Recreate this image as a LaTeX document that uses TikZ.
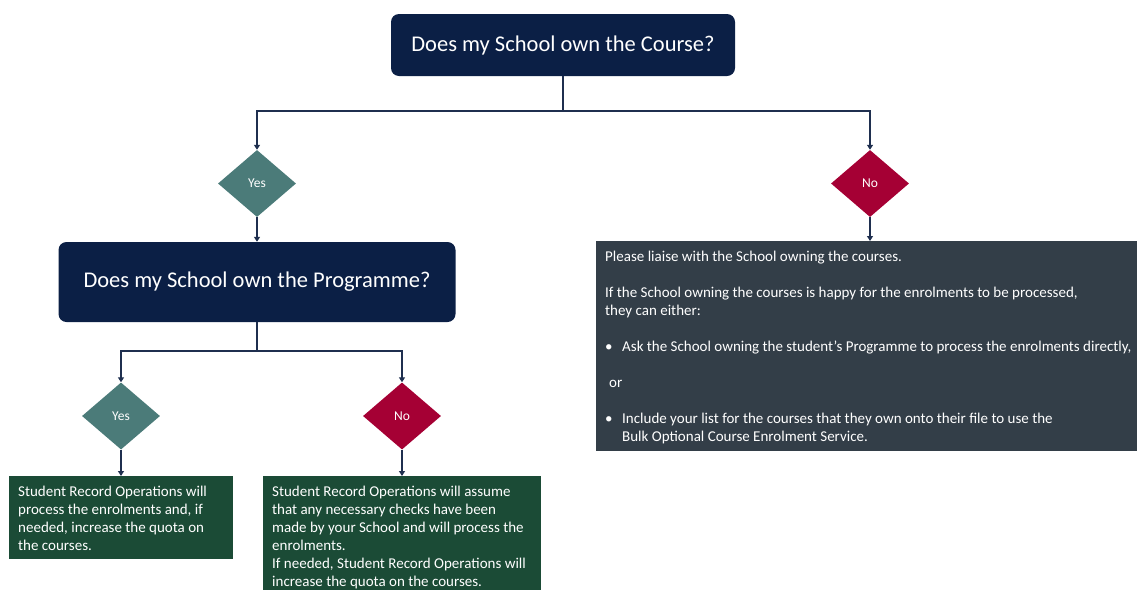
\documentclass[tikz,border=0pt]{standalone}
\usepackage{fontspec}
\setmainfont{Carlito}
\usetikzlibrary{shapes.geometric,arrows.meta}
\definecolor{navy}{HTML}{0B1F45}
\definecolor{tealc}{HTML}{4B7B79}
\definecolor{crim}{HTML}{A50034}
\definecolor{greenc}{HTML}{1B4B36}
\definecolor{grayc}{HTML}{333E48}
\definecolor{linec}{HTML}{1F2F4F}
\tikzset{
  qbox/.style={draw=none, fill=navy, rounded corners=8pt, text=white, font=\fontsize{22.5}{27}\selectfont, inner sep=0pt},
  dyes/.style={diamond, fill=tealc, text=white, inner sep=0pt, minimum width=78pt, minimum height=67pt, font=\fontsize{13.5}{15}\selectfont},
  dno/.style={diamond, fill=crim, text=white, inner sep=0pt, minimum width=78pt, minimum height=67pt, font=\fontsize{13.5}{15}\selectfont},
  gbox/.style={fill=greenc, inner sep=0pt, anchor=north west},
  dbox/.style={fill=grayc, inner sep=0pt, anchor=north west},
  btext/.style={text=white, inner sep=0pt, anchor=north west, align=left, font=\fontsize{15}{18}\selectfont},
  conn/.style={draw=linec, line width=1.5pt, -{Triangle[width=6pt,length=5pt]}},
  seg/.style={draw=linec, line width=1.5pt}
}
\begin{document}
\begin{tikzpicture}[x=1pt,y=-1pt]
\useasboundingbox (0,0) rectangle (1137,590);
% top question
\node[qbox, minimum width=344pt, minimum height=62pt] (top) at (563,45) {Does my School own the Course?};
\node[dyes] (yes1) at (257,183.5) {Yes};
\node[dno] (no1) at (870,183.5) {No};
\node[qbox, minimum width=397pt, minimum height=80pt] (prog) at (257,282) {Does my School own the Programme?};
\node[dyes] (yes2) at (121,416) {Yes};
\node[dno] (no2) at (402,416) {No};
% result boxes
\node[gbox, minimum width=224pt, minimum height=83pt] (g1) at (9,476) {};
\node[btext] (g1t) at ([xshift=9pt,yshift=-10pt]g1.north west) {Student Record Operations will\\process the enrolments and, if\\needed, increase the quota on\\the courses.};
\node[gbox, minimum width=278pt, minimum height=114pt] (g2) at (263,476) {};
\node[btext] (g2t) at ([xshift=9pt,yshift=-10pt]g2.north west) {Student Record Operations will assume\\that any necessary checks have been\\made by your School and will process the\\enrolments.\\If needed, Student Record Operations will\\increase the quota on the courses.};
\node[dbox, minimum width=541pt, minimum height=210pt] (d1) at (596,241) {};
\node[btext] (d1t) at ([xshift=9pt,yshift=-10pt]d1.north west) {Please liaise with the School owning the courses.\\[18pt]If the School owning the courses is happy for the enrolments to be processed,\\they can either:\\[18pt]\makebox[17pt][l]{\textbullet}Ask the School owning the student’s Programme to process the enrolments directly,\\[18pt]\hspace*{4pt}or\\[18pt]\makebox[17pt][l]{\textbullet}Include your list for the courses that they own onto their file to use the\\\hspace*{17pt}Bulk Optional Course Enrolment Service.};
% connectors
\coordinate (j1) at (563,111);
\coordinate (j2) at (257,351);
\draw[seg] (top.south) -- (j1);
\draw[conn] (j1) -| (yes1.north);
\draw[conn] (j1) -| (no1.north);
\draw[conn] (yes1.south) -- (yes1.south |- prog.north);
\draw[conn] (no1.south) -- (no1.south |- d1.north);
\draw[seg] (prog.south) -- (j2);
\draw[conn] (j2) -| (yes2.north);
\draw[conn] (j2) -| (no2.north);
\draw[conn] (yes2.south) -- (yes2.south |- g1.north);
\draw[conn] (no2.south) -- (no2.south |- g2.north);
\end{tikzpicture}
\end{document}
